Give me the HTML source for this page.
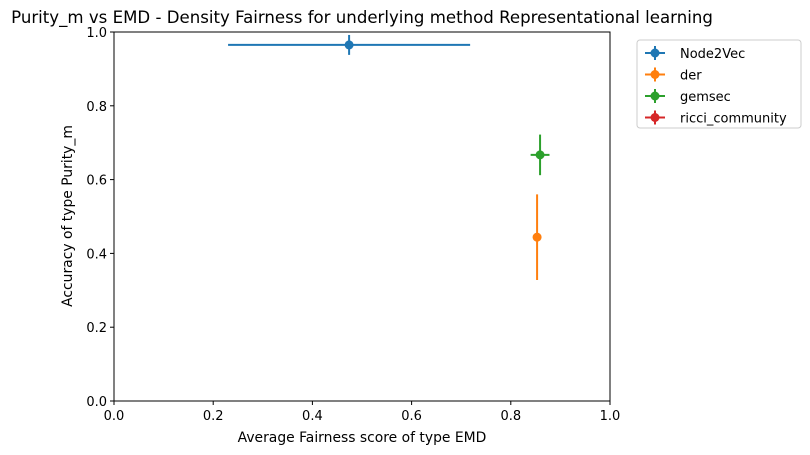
<!DOCTYPE html>
<html><head><meta charset="utf-8"><style>
body{margin:0;background:#fff;}
svg{display:block;font-family:"DejaVu Sans","Liberation Sans",sans-serif;}
</style></head><body>
<svg id="chart" width="810" height="455">
<rect width="810" height="455" fill="#fff"/>
<text x="362" y="23" text-anchor="middle" font-size="16.6">Purity_m vs EMD - Density Fairness for underlying method Representational learning</text>
<g id="ticks"></g>
<g id="marks"></g>
<rect x="114" y="32" width="496" height="369" fill="none" stroke="#000" stroke-width="1"/>
<text x="362" y="442" text-anchor="middle" font-size="13.9">Average Fairness score of type EMD</text>
<text transform="translate(72,216) rotate(-90)" text-anchor="middle" font-size="13.9">Accuracy of type Purity_m</text>
<g>
<rect x="637" y="40" width="164" height="88" rx="3" fill="#fff" stroke="#ccc"/>
<g id="legend"></g>
</g>
</svg>
<script>
const seriesNames=["Node2Vec","der","gemsec","ricci_community"];
const colors=["#1f77b4","#ff7f0e","#2ca02c","#d62728"];
const xVals=[0.474,0.853,0.859,NaN];
const xErr=[0.244,0.006,0.019,NaN];
const yVals=[0.965,0.444,0.667,NaN];
const yErr=[0.027,0.116,0.055,NaN];
const ticks=[0,0.2,0.4,0.6,0.8,1.0];
const tickLabels=["0.0","0.2","0.4","0.6","0.8","1.0"];
const NS="http://www.w3.org/2000/svg";
const X=v=>114+v*496, Y=v=>401-v*369;
function mk(t,a,p){const e=document.createElementNS(NS,t);for(const k in a)e.setAttribute(k,a[k]);p.appendChild(e);return e;}
const tg=document.getElementById('ticks');
ticks.forEach((t,i)=>{
 let l=mk('line',{x1:X(t),x2:X(t),y1:401,y2:405,stroke:'#000'},tg);
 
 
 let tx=mk('text',{x:X(t),y:420,'text-anchor':'middle','font-size':13},tg);tx.textContent=tickLabels[i];
 
 
 let l2=mk('line',{x1:110,x2:114,y1:Y(t),y2:Y(t),stroke:'#000'},tg);
 
 
 let ty=mk('text',{x:107,y:Y(t)+5,'text-anchor':'end','font-size':13},tg);ty.textContent=tickLabels[i];
 
 
});
const mg=document.getElementById('marks');
seriesNames.forEach((n,i)=>{
 if(isNaN(xVals[i])||isNaN(yVals[i]))return;
 const g=mk('g',{},mg);
 
 
 mk('line',{x1:X(xVals[i]-xErr[i]),x2:X(xVals[i]+xErr[i]),y1:Y(yVals[i]),y2:Y(yVals[i]),stroke:colors[i],'stroke-width':2},g);
 mk('line',{x1:X(xVals[i]),x2:X(xVals[i]),y1:Y(yVals[i]-yErr[i]),y2:Y(yVals[i]+yErr[i]),stroke:colors[i],'stroke-width':2},g);
 mk('circle',{cx:X(xVals[i]),cy:Y(yVals[i]),r:4.5,fill:colors[i]},g);
});
const lg=document.getElementById('legend');
seriesNames.forEach((n,i)=>{
 const y=53+i*21.5;
 const g=mk('g',{},lg);
 
 
 mk('line',{x1:645,x2:665,y1:y,y2:y,stroke:colors[i],'stroke-width':2},g);
 mk('line',{x1:655,x2:655,y1:y-7,y2:y+7,stroke:colors[i],'stroke-width':2},g);
 mk('circle',{cx:655,cy:y,r:4.5,fill:colors[i]},g);
 const t=mk('text',{x:680,y:y+5,'font-size':13},g);t.textContent=n;
});
</script>
</body></html>
